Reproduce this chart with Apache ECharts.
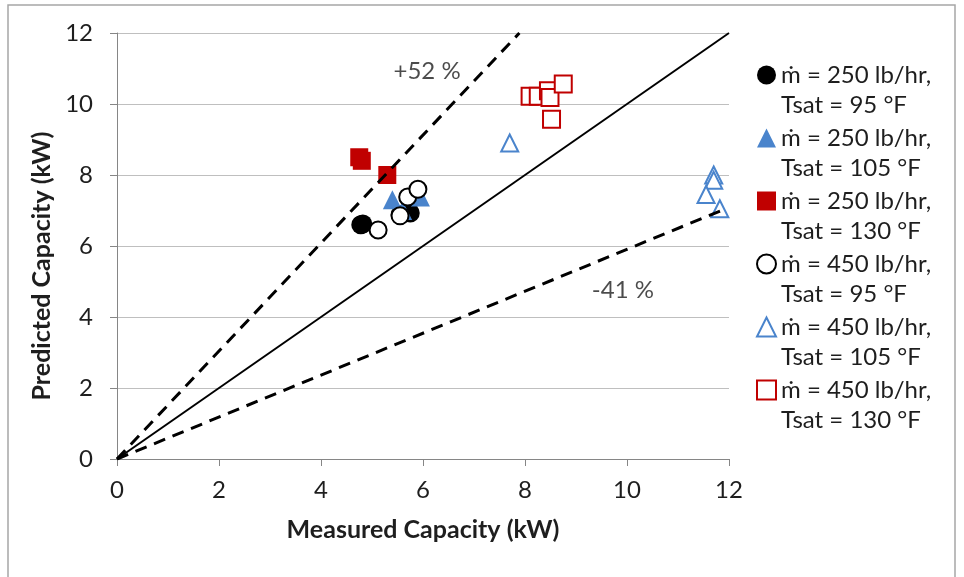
<!DOCTYPE html>
<html><head><meta charset="utf-8">
<script src="https://cdn.jsdelivr.net/npm/echarts@6/dist/echarts.min.js"></script>
<style>html,body{margin:0;padding:0;background:#fff}#c{width:964px;height:577px}</style>
</head><body><div id="c"></div>
<script>
const xTicks = [0, 2, 4, 6, 8, 10, 12];
const yTicks = [0, 2, 4, 6, 8, 10, 12];
const seriesNames = [
  'ṁ = 250 lb/hr,\nTsat = 95 °F',
  'ṁ = 250 lb/hr,\nTsat = 105 °F',
  'ṁ = 250 lb/hr,\nTsat = 130 °F',
  'ṁ = 450 lb/hr,\nTsat = 95 °F',
  'ṁ = 450 lb/hr,\nTsat = 105 °F',
  'ṁ = 450 lb/hr,\nTsat = 130 °F'
];
const m250T95 = [[4.82, 6.62], [4.78, 6.6], [5.55, 6.88], [5.75, 6.93]];
const m250T105 = [[5.4, 7.3], [5.95, 7.38], [5.6, 7.0]];
const m250T130 = [[4.75, 8.5], [4.8, 8.4], [5.3, 8.0]];
const m450T95 = [[5.12, 6.45], [5.55, 6.85], [5.7, 7.38], [5.9, 7.6]];
const m450T105 = [[7.7, 8.9], [11.7, 8.0], [11.7, 7.85], [11.55, 7.45], [11.82, 7.05]];
const m450T130 = [[8.1, 10.22], [8.26, 10.22], [8.46, 10.37], [8.49, 10.18], [8.75, 10.56], [8.52, 9.57]];
const parityLine = [[0, 0], [12, 12]];
const upperLine = [[0, 0], [7.89, 12]];
const lowerLine = [[0, 0], [11.85, 7]];
const annotations = [{ text: '+52 %', pos: [6.08, 10.93] }, { text: '-41 %', pos: [9.92, 4.75] }];

const FONT = 'Lato';
const TXT = '#1e1e1e';
const chart = echarts.init(document.getElementById('c'));
const blue = '#4a84cc', red = '#c00000';
function sc(name, data, symbol, fill, border, size) {
  return {
    name, type: 'scatter', data, symbol, symbolSize: size, z: 2,
    itemStyle: { color: fill, borderColor: border, borderWidth: fill === '#fff' ? 2 : 0, opacity: 1 }
  };
}
function ln(data, dashed, width) {
  return {
    type: 'line', data, showSymbol: false, symbol: 'none', z: 5, silent: true,
    lineStyle: { color: '#000', width, type: dashed ? [12, 8] : 'solid' }
  };
}
chart.setOption({
  animation: false,
  textStyle: { fontFamily: FONT },
  graphic: [{ type: 'rect', shape: { x: 8, y: 5, width: 947, height: 575 }, style: { fill: 'none', stroke: '#a6a6a6', lineWidth: 1.5 }, silent: true }],
  grid: { left: 117, right: 235, top: 33, bottom: 118 },
  xAxis: {
    type: 'value', min: 0, max: 12, interval: 2,
    name: 'Measured Capacity (kW)', nameLocation: 'middle', nameGap: 58,
    nameTextStyle: { fontFamily: FONT, fontWeight: 'bold', fontSize: 25, color: TXT },
    axisLine: { show: true, lineStyle: { color: '#868686', width: 1 } },
    axisTick: { show: true, length: 7, lineStyle: { color: '#868686' } },
    axisLabel: { fontSize: 24, color: TXT, margin: 19, formatter: v => xTicks.includes(v) ? String(v) : '' },
    splitLine: { show: false }
  },
  yAxis: {
    type: 'value', min: 0, max: 12, interval: 2,
    name: 'Predicted Capacity (kW)', nameLocation: 'middle', nameGap: 60,
    nameTextStyle: { fontFamily: FONT, fontWeight: 'bold', fontSize: 25, color: TXT, padding: [0, 40, 0, 0] },
    axisLine: { show: true, lineStyle: { color: '#868686', width: 1 } },
    axisTick: { show: true, length: 7, lineStyle: { color: '#868686' } },
    axisLabel: { fontSize: 24, color: TXT, margin: 24, formatter: v => yTicks.includes(v) ? String(v) : '' },
    splitLine: { show: true, lineStyle: { color: '#bfbfbf', width: 1 } }
  },
  legend: {
    orient: 'vertical', left: 756, top: 30, padding: 0, itemGap: -27, itemWidth: 19, itemHeight: 19,
    data: seriesNames,
    formatter: name => ' \n' + name,
    textStyle: { fontFamily: FONT, fontSize: 24, color: TXT, lineHeight: 30 }
  },
  series: [
    sc(seriesNames[0], m250T95, 'circle', '#000', '#000', 19),
    sc(seriesNames[1], m250T105, 'triangle', blue, blue, 19),
    sc(seriesNames[2], m250T130, 'rect', red, red, 18),
    sc(seriesNames[3], m450T95, 'circle', '#fff', '#000', 17),
    sc(seriesNames[4], m450T105, 'triangle', '#fff', blue, 17),
    sc(seriesNames[5], m450T130, 'rect', '#fff', red, 17),
    ln(parityLine, false, 2),
    ln(upperLine, true, 3),
    ln(lowerLine, true, 3),
    {
      type: 'scatter', silent: true, symbolSize: 0, z: 6,
      data: annotations.map(a => ({ value: a.pos, name: a.text })),
      label: { show: true, position: 'inside', formatter: p => p.name, fontFamily: FONT, fontSize: 24, color: TXT }
    }
  ]
});
</script></body></html>
